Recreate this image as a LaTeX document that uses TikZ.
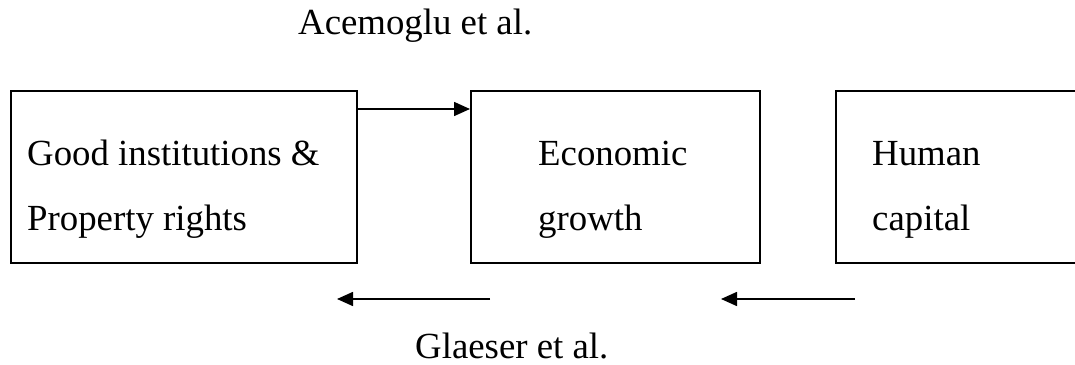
\documentclass[tikz,border=0pt]{standalone}
\usepackage{fontspec}
\setmainfont{Liberation Serif}
\usetikzlibrary{arrows.meta}

\tikzset{
	box/.style={draw,line width=1.6pt,anchor=north west,minimum height=172pt,inner sep=0pt},
	txt/.style={anchor=base west,inner sep=0pt,font=\fontsize{36.8pt}{44pt}\selectfont}
}

\begin{document}
\begin{tikzpicture}[x=1pt,y=1pt,>={Triangle[length=16pt,width=14pt]}]
	\clip (0,0) rectangle (1075,364);

	% Boxes (the third one runs off the right edge)
	\node[box,minimum width=346pt] (inst) at (10,274) {};
	\node[box,minimum width=289pt] (growth) at (470,274) {};
	\node[box,minimum width=320pt] (human) at (835,274) {};

	% Box texts, two lines each
	\node[txt] (inst1) at (27,198) {Good institutions \&};
	\node[txt] (inst2) at (27,133) {Property rights};
	\node[txt] (growth1) at (538,198) {Economic};
	\node[txt] (growth2) at (538,133) {growth};
	\node[txt] (human1) at (872,198) {Human};
	\node[txt] (human2) at (872,133) {capital};

	% Acemoglu et al.: institutions -> growth
	\node[txt] (acem) at (298,329) {Acemoglu et al.};
	\draw[->,line width=1.6pt] ([yshift=-19pt]inst.north east) -- ([yshift=-19pt]growth.north west);

	% Glaeser et al.: arrows pointing back, below the boxes
	\node[txt] (glae) at (415,6) {Glaeser et al.};
	\coordinate (g1s) at (490,65);
	\coordinate (g1e) at (337,65);
	\coordinate (g2s) at (855,65);
	\coordinate (g2e) at (721,65);
	\draw[->,line width=1.6pt] (g1s) -- (g1e);
	\draw[->,line width=1.6pt] (g2s) -- (g2e);
\end{tikzpicture}
\end{document}
